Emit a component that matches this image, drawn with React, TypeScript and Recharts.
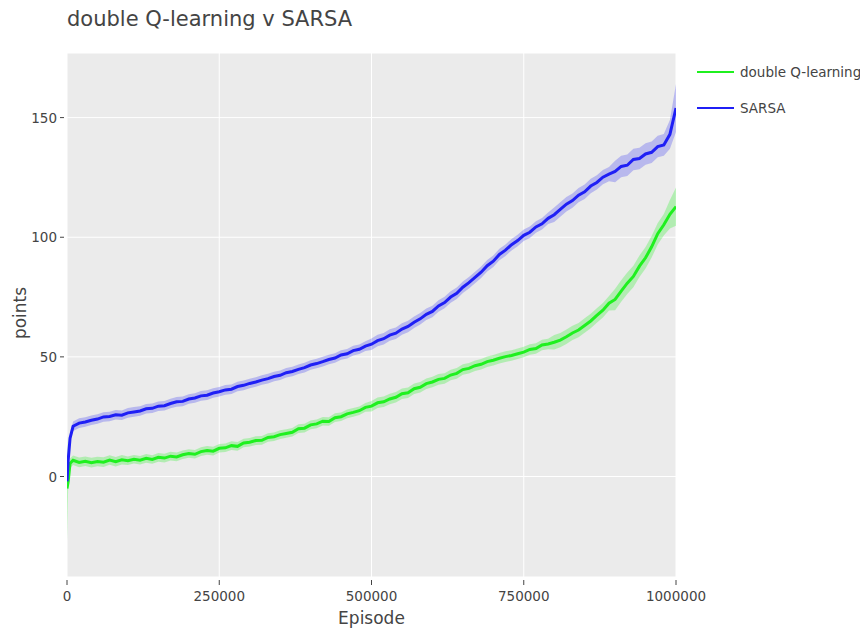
import React from "react";
import { ComposedChart, Area, Line, XAxis, YAxis, CartesianGrid } from "recharts";

// Episode grid: a few early samples for the initial climb, then every 10k episodes.
const episodes: number[] = [0, 2000, 5000, ...Array.from({ length: 100 }, (_, i) => (i + 1) * 10000)];

// Mean points per episode, double Q-learning
const doubleQ: number[] = [
  -5, -2, 5.5,
  6.8, 5.9, 6.4, 5.8, 6.3, 6.0, 6.9, 6.2, 7.0, 6.6,
  7.2, 6.8, 7.6, 7.1, 8.0, 7.7, 8.5, 8.2, 9.1, 9.6,
  9.3, 10.4, 10.9, 10.6, 11.8, 12.0, 12.9, 12.6, 14.0, 14.3,
  15.0, 15.1, 16.3, 16.6, 17.5, 18.0, 18.5, 20.0, 20.2, 21.6,
  22.0, 23.1, 23.0, 24.6, 25.0, 26.2, 26.8, 27.5, 28.9, 29.4,
  30.8, 31.2, 32.4, 33.1, 34.6, 35.0, 36.7, 37.3, 38.8, 39.5,
  40.6, 41.0, 42.4, 43.1, 44.7, 45.2, 46.3, 46.9, 48.0, 48.6,
  49.4, 50.1, 50.6, 51.3, 52.0, 53.1, 53.5, 55.0, 55.4, 56.1,
  57.0, 58.4, 60.0, 61.2, 63.1, 65.0, 67.3, 69.5, 72.4, 74.0,
  77.5, 80.8, 83.6, 87.9, 91.4, 96.0, 101.5, 105.2, 109.6, 112.8,
];

// Mean points per episode, SARSA
const sarsa: number[] = [
  -2, 7, 16,
  21.0, 22.3, 22.8, 23.5, 24.0, 24.9, 25.1, 25.8, 25.6, 26.6,
  27.0, 27.4, 28.3, 28.5, 29.4, 29.6, 30.5, 31.2, 31.4, 32.4,
  32.8, 33.7, 34.0, 34.9, 35.4, 36.2, 36.5, 37.6, 38.1, 38.9,
  39.5, 40.3, 40.9, 41.8, 42.3, 43.4, 43.9, 44.8, 45.5, 46.6,
  47.2, 48.0, 48.9, 49.5, 50.8, 51.3, 52.6, 53.2, 54.5, 55.3,
  56.8, 57.6, 59.1, 59.9, 61.6, 62.7, 64.5, 65.9, 67.8, 69.0,
  71.3, 72.7, 75.0, 76.6, 79.1, 81.0, 83.2, 85.4, 88.1, 90.0,
  92.8, 94.6, 96.9, 98.6, 100.8, 102.1, 104.3, 105.6, 107.9, 109.4,
  111.6, 113.8, 115.3, 117.6, 119.0, 121.4, 122.9, 125.1, 126.4, 127.5,
  129.6, 130.1, 132.5, 132.9, 134.8, 135.5, 137.9, 138.6, 143.0, 154.0,
];

// Half-width of the shaded spread, stepwise from each starting episode
const bandFrom: number[] = [0, 2000, 100000, 500000, 800000, 900000, 990000, 1000000];
const doubleQHalf: number[] = [22, 2, 1.8, 2.2, 3, 4.5, 6, 8];
const sarsaHalf: number[] = [4, 2, 2, 2.4, 3, 4.5, 6, 10];

const xTicks: number[] = [0, 250000, 500000, 750000, 1000000];
const yTicks: number[] = [0, 50, 100, 150];

const GREEN = "#1ff01f";
const BLUE = "#1f1ff5";
const TEXT = "#444";
const FONT = "'DejaVu Sans', Verdana, sans-serif";

const series = [
  { name: "double Q-learning", color: GREEN },
  { name: "SARSA", color: BLUE },
];

const halfAt = (ep: number, halves: number[]) => {
  let h = halves[0];
  bandFrom.forEach((from, i) => {
    if (ep >= from) h = halves[i];
  });
  return h;
};

const data = episodes.map((ep, i) => {
  const q = doubleQ[i];
  const s = sarsa[i];
  const qh = halfAt(ep, doubleQHalf);
  const sh = halfAt(ep, sarsaHalf);
  return { ep, q, s, qBand: [q - qh, q + qh], sBand: [s - sh, s + sh] };
});

const XTick = (props: any) => {
  const { x, y, payload } = props;
  return (
    <g>
      <line x1={x} x2={x} y1={y + 3} y2={y + 8} stroke={TEXT} strokeWidth={1} />
      <text x={x} y={y + 19} textAnchor="middle" dominantBaseline="central" fill={TEXT} fontSize={13.5} fontFamily={FONT}>
        {payload.value}
      </text>
    </g>
  );
};

const YTick = (props: any) => {
  const { x, y, payload } = props;
  return (
    <g>
      <line x1={x - 7} x2={x - 3} y1={y} y2={y} stroke={TEXT} strokeWidth={1} />
      <text x={x - 10} y={y} textAnchor="end" dominantBaseline="central" fill={TEXT} fontSize={13.5} fontFamily={FONT}>
        {payload.value}
      </text>
    </g>
  );
};

export default function App() {
  return (
    <div style={{ position: "relative", width: 868, height: 634, margin: "-8px 0 0 -8px", background: "#fff", fontFamily: FONT }}>
      <div style={{ position: "absolute", left: 67, top: 7, fontSize: 21, color: TEXT, whiteSpace: "nowrap" }}>
        double Q-learning v SARSA
      </div>
      <ComposedChart width={868} height={634} data={data} margin={{ top: 53, right: 192, bottom: 0, left: 0 }}>
        <CartesianGrid stroke="#ffffff" strokeWidth={1} fill="#ebebeb" />
        <XAxis
          dataKey="ep"
          type="number"
          domain={[0, 1000000]}
          ticks={xTicks}
          interval={0}
          height={57}
          tickSize={0}
          tickMargin={0}
          axisLine={false}
          tickLine={false}
          tick={<XTick />}
          allowDataOverflow
        />
        <YAxis
          type="number"
          domain={[-42, 177]}
          ticks={yTicks}
          interval={0}
          width={67}
          tickSize={0}
          tickMargin={0}
          axisLine={false}
          tickLine={false}
          tick={<YTick />}
          allowDataOverflow
        />
        <Area type="linear" dataKey="qBand" stroke="none" fill={GREEN} fillOpacity={0.28} isAnimationActive={false} />
        <Line type="linear" dataKey="q" stroke={GREEN} strokeWidth={3} dot={false} isAnimationActive={false} />
        <Area type="linear" dataKey="sBand" stroke="none" fill={BLUE} fillOpacity={0.25} isAnimationActive={false} />
        <Line type="linear" dataKey="s" stroke={BLUE} strokeWidth={3} dot={false} isAnimationActive={false} />
      </ComposedChart>
      <div style={{ position: "absolute", left: 338, top: 608, width: 67, fontSize: 17, color: TEXT, textAlign: "center", whiteSpace: "nowrap" }}>
        Episode
      </div>
      <div
        style={{
          position: "absolute",
          left: 20,
          top: 313,
          fontSize: 17,
          color: TEXT,
          whiteSpace: "nowrap",
          transform: "translate(-50%, -50%) rotate(-90deg)",
        }}
      >
        points
      </div>
      {series.map((s, i) => (
        <div key={s.name} style={{ position: "absolute", left: 697, top: 62 + i * 36, height: 20, display: "flex", alignItems: "center" }}>
          <svg width={38} height={20} style={{ display: "block" }}>
            <line x1={0} x2={37} y1={10} y2={10} stroke={s.color} strokeWidth={2} />
          </svg>
          <span style={{ marginLeft: 5, fontSize: 13.5, color: TEXT, whiteSpace: "nowrap" }}>{s.name}</span>
        </div>
      ))}
    </div>
  );
}
